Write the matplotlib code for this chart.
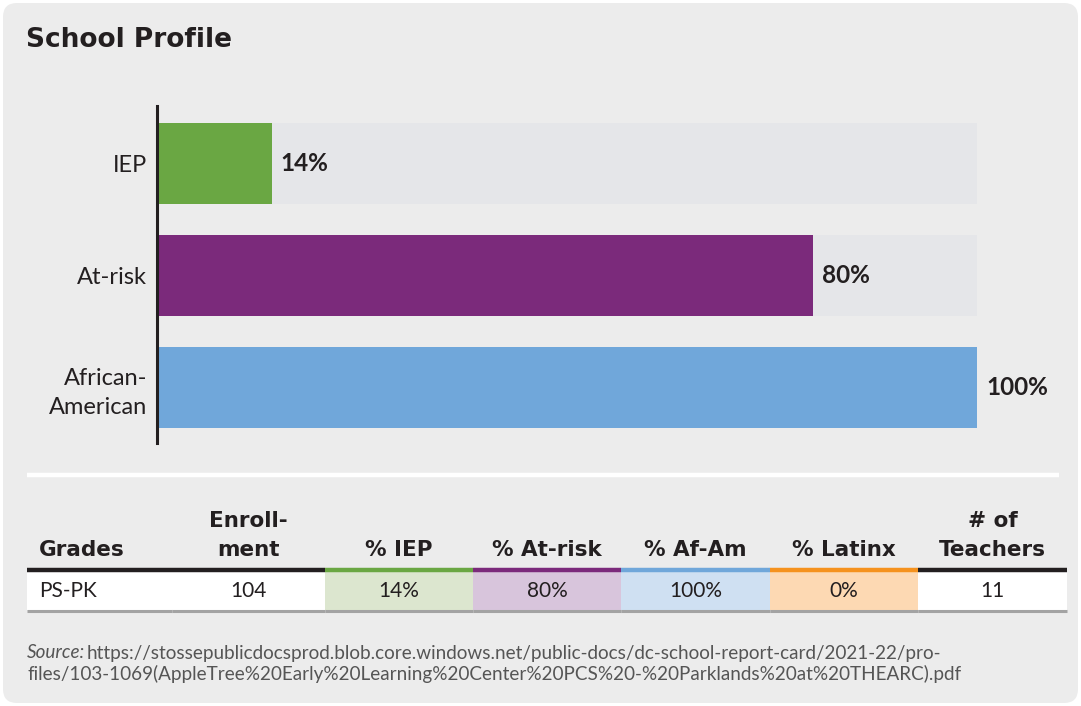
import numpy as np
import matplotlib
matplotlib.use('Agg')
import matplotlib.pyplot as plt
from matplotlib.patches import FancyBboxPatch, Rectangle

plt.rcParams['font.family'] = ['Lato', 'DejaVu Sans']

""" DATA """
categories = ["IEP", "At-risk", "African-\nAmerican"]
values = [14, 80, 100]
bar_colors = ["#6aa743", "#7b2a7b", "#70a7da"]

table_headers = ["Grades", "Enroll-\nment", "% IEP", "% At-risk", "% Af-Am", "% Latinx", "# of\nTeachers"]
table_row = ["PS-PK", "104", "14%", "80%", "100%", "0%", "11"]
head_line_colors = ["#231f20", "#231f20", "#6aa743", "#7b2a7b", "#70a7da", "#f5921e", "#231f20"]
cell_colors = ["white", "white", "#dce6cf", "#d8c5dc", "#cfe0f2", "#fdd9b3", "white"]

source_label = "Source:"
source_lines = ["https://stossepublicdocsprod.blob.core.windows.net/public-docs/dc-school-report-card/2021-22/pro-",
                "files/103-1069(AppleTree%20Early%20Learning%20Center%20PCS%20-%20Parklands%20at%20THEARC).pdf"]

""" LAYOUT (pixels) """
W, H = 1081, 706
panel_col = "#ececec"
track_col = "#e5e6e9"
text_col = "#231f20"
src_col = "#555555"
heavy = ['DejaVu Sans']

fig = plt.figure(figsize=(W / 100, H / 100), dpi=100)
fig.patch.set_facecolor("white")

# background axes in pixel coords
bg = fig.add_axes([0, 0, 1, 1])
bg.set_xlim(0, W)
bg.set_ylim(H, 0)
bg.axis('off')
bg.add_patch(FancyBboxPatch((3, 3), W - 6, H - 6, boxstyle="round,pad=0,rounding_size=14",
                            fc=panel_col, ec="none"))

bg.text(26, 40, "School Profile", fontsize=19, family=heavy, fontweight='bold', color=text_col,
        ha='left', va='center')

# --- bar chart ---
ax = fig.add_axes([157 / W, 1 - 443 / H, 820 / W, 337 / H])
ax.set_facecolor("none")
y = np.arange(len(categories))
bh = 81 / 112
ax.barh(y, [100] * len(values), height=bh, color=track_col, zorder=1)
ax.barh(y, values, height=bh, color=bar_colors, zorder=2)
for yi, v in zip(y, values):
    ax.text(v + 1.1, yi, "%d%%" % v, fontsize=17.5, fontweight='bold', color=text_col,
            ha='left', va='center', clip_on=False)
ax.set_xlim(0, 100)
ax.set_ylim(2 + 55.5 / 112, -57.5 / 112)
ax.set_yticks(y)
ax.set_yticklabels(categories, fontsize=17, color=text_col, ha='right',
                   multialignment='right', linespacing=1.42)
ax.tick_params(axis='y', length=0, pad=7)
ax.set_xticks([])
for s in ['top', 'right', 'bottom']:
    ax.spines[s].set_visible(False)
ax.spines['left'].set_linewidth(2.2)
ax.spines['left'].set_color(text_col)

# --- separator ---
bg.plot([27, 1059], [475, 475], color="white", lw=3.2, solid_capstyle='butt')

# --- table ---
edges = [27, 172, 325, 473, 621, 770, 918, 1067]
for i in range(len(table_headers)):
    x0, x1 = edges[i], edges[i + 1]
    xc = (x0 + x1) / 2
    bg.add_patch(Rectangle((x0, 572), x1 - x0, 38, fc=cell_colors[i], ec="none"))
    bg.plot([x0, x1], [570, 570], color=head_line_colors[i], lw=3.2, solid_capstyle='butt')
    bg.plot([x0, x1], [611, 611], color="#a3a3a3", lw=2.2, solid_capstyle='butt')
    if i == 0:
        tx, ha = 39, 'left'
    else:
        tx, ha = xc, 'center'
    bg.text(tx, 560, table_headers[i], fontsize=15.5, family=heavy, fontweight='bold', color=text_col,
            ha=ha, va='bottom', multialignment='center', linespacing=1.55)
    bg.text(tx, 591, table_row[i], fontsize=15, color=text_col, ha=ha, va='center')

# --- source ---
lbl = bg.text(27, 653, source_label, fontsize=13.6, fontstyle='italic', color=src_col,
              ha='left', va='center')
fig.canvas.draw()
x_url = lbl.get_window_extent(fig.canvas.get_renderer()).x1 + 1
bg.text(x_url, 653, source_lines[0], fontsize=13.6, color=src_col, ha='left', va='center')
bg.text(27, 674, source_lines[1], fontsize=13.6, color=src_col, ha='left', va='center')

fig.savefig("out.png", dpi=100, facecolor=fig.get_facecolor())
